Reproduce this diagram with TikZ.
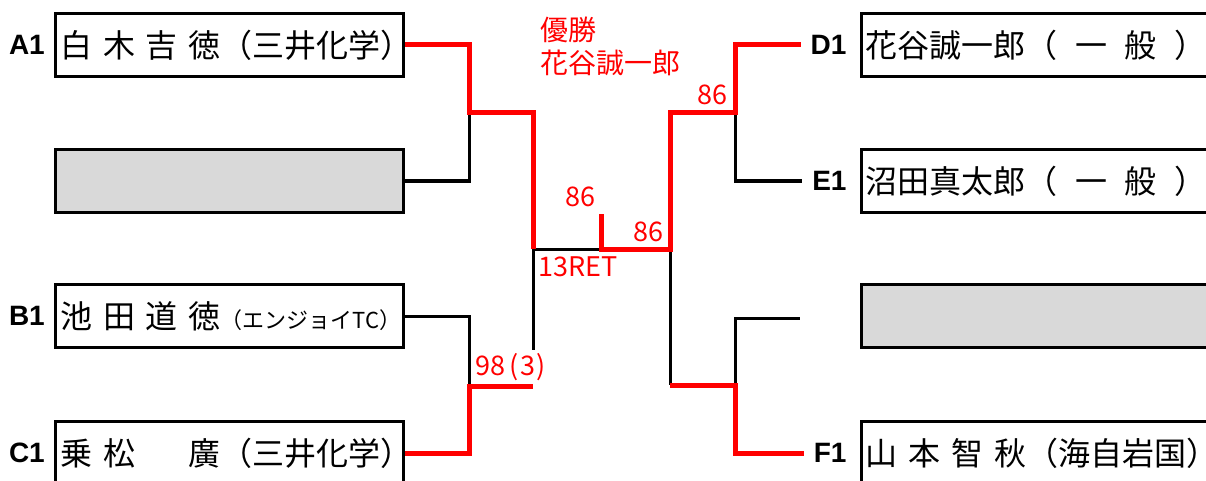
\documentclass[tikz,border=0pt]{standalone}
\usepackage{fontspec}
\setmainfont{Noto Sans CJK JP}
\newfontfamily\seedfont{Liberation Sans}
\usetikzlibrary{positioning}
\definecolor{byegray}{gray}{0.85}
\newcommand{\jgap}{\hspace{0.34em}}
\newcommand{\kgap}{\hspace{0.55em}}

\tikzset{
  namebox/.style={draw, line width=3pt, minimum width=348pt, minimum height=63pt, inner sep=0pt},
  byebox/.style={namebox, fill=byegray},
  nametext/.style={anchor=west, inner sep=0pt, font=\fontsize{32}{32}\selectfont},
  seed/.style={inner sep=0pt, font=\seedfont\bfseries\fontsize{28}{28}\selectfont},
  win/.style={draw=red, line width=5pt},
  lose/.style={draw=black, line width=3pt},
  score/.style={red, inner sep=0pt, font=\fontsize{27}{27}\selectfont}
}

\begin{document}
\begin{tikzpicture}[x=1pt, y=-1pt]
  \useasboundingbox (0,0) rectangle (1206,481);
  \clip (0,0) rectangle (1206,481);
  %Boxes
  \node[namebox] (a1) at (229.5,45) {};
  \node[byebox] (byeL) at (229.5,181) {};
  \node[namebox] (b1) at (229.5,316) {};
  \node[namebox] (c1) at (229.5,453) {};
  \node[namebox] (d1) at (1035,45) {};
  \node[namebox] (e1) at (1035,181) {};
  \node[byebox] (byeR) at (1035,316) {};
  \node[namebox] (f1) at (1035,453) {};
  %Seeds
  \node[seed, left=9pt of a1] (a1s) {A1};
  \node[seed, left=9pt of b1] (b1s) {B1};
  \node[seed, left=9pt of c1] (c1s) {C1};
  \node[seed, outer xsep=10pt, left=3pt of d1] (d1s) {D1};
  \node[seed, outer xsep=10pt, left=3pt of e1] (e1s) {E1};
  \node[seed, outer xsep=10pt, left=3pt of f1] (f1s) {F1};
  %Names
  \node[nametext, right=6pt of a1.west] (a1n) {白\jgap 木\jgap 吉\jgap 徳（三井化学）};
  \node[nametext, right=6pt of b1.west] (b1n) {池\jgap 田\jgap 道\jgap 徳{\fontsize{22}{22}\selectfont（エンジョイTC）}};
  \node[nametext, right=6pt of c1.west] (c1n) {乗\jgap 松\jgap\hspace{1em}\jgap 廣（三井化学）};
  \node[nametext, right=6pt of d1.west] (d1n) {花谷誠一郎（\kgap 一\kgap 般\kgap ）};
  \node[nametext, right=6pt of e1.west] (e1n) {沼田真太郎（\kgap 一\kgap 般\kgap ）};
  \node[nametext, right=6pt of f1.west] (f1n) {山\jgap 本\jgap 智\jgap 秋（海自岩国）};
  %Points
  \coordinate (ab) at (469,113);
  \coordinate (bc) at (469,386);
  \coordinate (lsemi) at (533,249);
  \coordinate (lcut) at (533,350);
  \coordinate (fin) at (601,249);
  \coordinate (finup) at (601,214);
  \coordinate (rsemi) at (670,249);
  \coordinate (de) at (735,113);
  \coordinate (ff) at (735,385);
  \coordinate (byeRin) at (800,318);
  %Black lines
  \draw[lose] (byeL.east) -| (ab);
  \draw[lose] (b1.east) -| (bc);
  \draw[lose] (lsemi) -- (lcut);
  \draw[lose] (lsemi) -- (fin);
  \draw[lose] (de) |- (e1s.west);
  \draw[lose] (rsemi) -- (rsemi |- ff);
  \draw[lose] (ff) |- (byeRin);
  %Red lines
  \draw[win] (a1.east) -| (ab) -| (lsemi);
  \draw[win] (c1.east) -| (bc) -- (bc -| lsemi);
  \draw[win] (finup) |- (rsemi) |- (de) |- (d1s.west);
  \draw[win] (rsemi |- ff) -- (ff) |- (f1s.west);
  %Scores
  \node[score] (finL) at (580,197) {86};
  \node[score] (finR) at (648,232) {86};
  \node[score] (sfL) at (578,267) {13RET};
  \node[score] (sfR) at (712,95) {86};
  \node[score] (qfL) at (511,367) {98\hspace{4pt}(\hspace{1.5pt}3\hspace{1.5pt})};
  \node[score, anchor=north west, align=left, font=\fontsize{28}{33}\selectfont] (champ) at (540,17) {優勝\\花谷誠一郎};
\end{tikzpicture}
\end{document}
